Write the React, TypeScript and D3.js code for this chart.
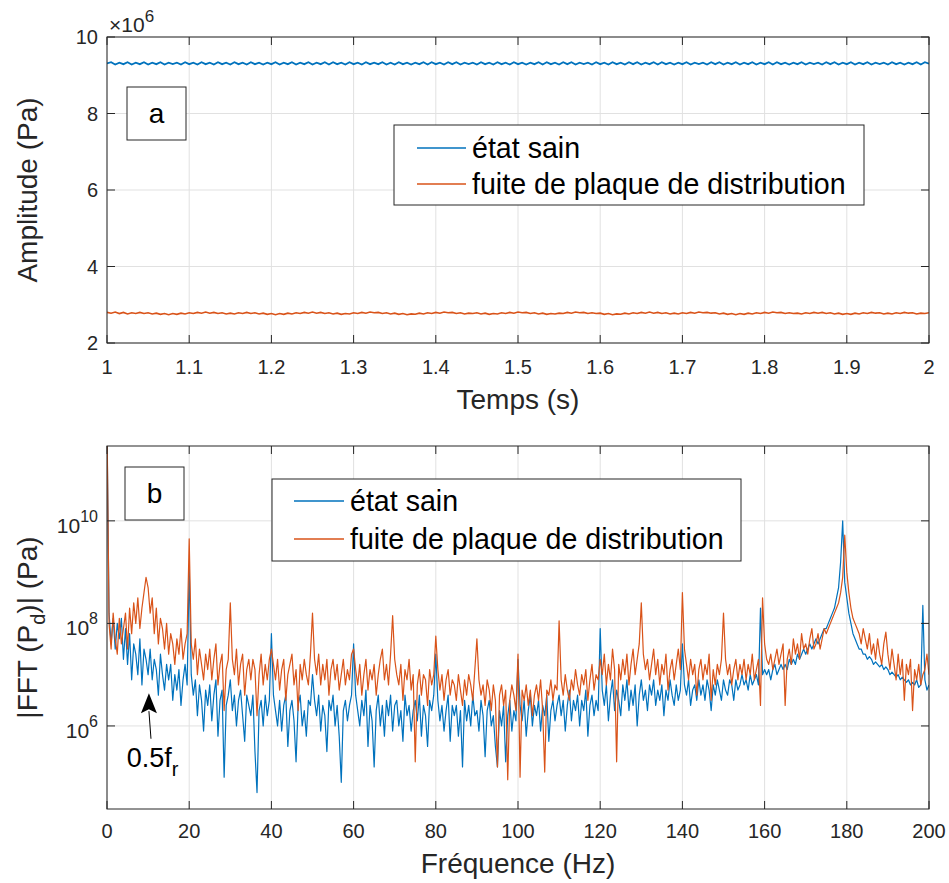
import React from 'react';
import * as d3 from 'd3';

// ---------- DATA ----------
const TIME_RANGE = [1, 2];
// Panel a: pressure amplitude (x 10^6 Pa), 201 samples between 1 s and 2 s
const BLUE_TIME = [
  9.31,9.34,9.28,9.33,9.29,9.34,9.28,9.33,9.29,9.34,
  9.28,9.33,9.29,9.34,9.28,9.33,9.29,9.33,9.28,9.34,
  9.29,9.33,9.28,9.34,9.29,9.33,9.28,9.34,9.29,9.33,
  9.28,9.34,9.29,9.33,9.28,9.34,9.29,9.33,9.28,9.33,
  9.29,9.34,9.28,9.33,9.29,9.34,9.28,9.33,9.29,9.34,
  9.28,9.33,9.29,9.34,9.28,9.34,9.29,9.33,9.28,9.34,
  9.29,9.33,9.28,9.34,9.29,9.33,9.29,9.34,9.28,9.33,
  9.28,9.34,9.29,9.33,9.28,9.33,9.29,9.34,9.28,9.34,
  9.29,9.33,9.28,9.34,9.29,9.34,9.28,9.33,9.29,9.33,
  9.28,9.34,9.29,9.33,9.28,9.34,9.29,9.33,9.28,9.34,
  9.29,9.33,9.28,9.33,9.29,9.34,9.28,9.34,9.29,9.33,
  9.28,9.34,9.29,9.34,9.28,9.33,9.29,9.33,9.28,9.34,
  9.29,9.33,9.28,9.34,9.29,9.33,9.28,9.34,9.29,9.34,
  9.28,9.33,9.29,9.34,9.28,9.34,9.29,9.33,9.28,9.33,
  9.29,9.34,9.28,9.33,9.29,9.33,9.28,9.34,9.29,9.34,
  9.28,9.33,9.29,9.34,9.28,9.33,9.29,9.34,9.28,9.33,
  9.29,9.34,9.28,9.34,9.29,9.33,9.28,9.33,9.29,9.34,
  9.28,9.33,9.29,9.33,9.28,9.34,9.29,9.34,9.28,9.33,
  9.29,9.34,9.28,9.33,9.29,9.34,9.28,9.33,9.29,9.33,
  9.28,9.34,9.29,9.33,9.28,9.33,9.29,9.34,9.28,9.34,
  9.30,
];
const ORANGE_TIME = [
  2.80,2.78,2.81,2.77,2.80,2.76,2.79,2.77,2.80,2.77,
  2.79,2.76,2.78,2.75,2.77,2.74,2.77,2.75,2.78,2.76,
  2.79,2.77,2.80,2.78,2.81,2.78,2.80,2.77,2.79,2.76,
  2.78,2.76,2.79,2.77,2.80,2.77,2.79,2.76,2.78,2.75,
  2.77,2.74,2.77,2.75,2.78,2.76,2.79,2.77,2.80,2.78,
  2.81,2.78,2.80,2.77,2.79,2.76,2.78,2.75,2.77,2.76,
  2.79,2.77,2.80,2.78,2.81,2.79,2.80,2.77,2.79,2.76,
  2.78,2.75,2.77,2.74,2.76,2.75,2.78,2.76,2.79,2.77,
  2.80,2.78,2.81,2.79,2.80,2.77,2.79,2.76,2.78,2.77,
  2.79,2.76,2.78,2.75,2.77,2.76,2.79,2.77,2.80,2.78,
  2.81,2.79,2.80,2.77,2.79,2.76,2.78,2.75,2.77,2.76,
  2.78,2.77,2.80,2.78,2.81,2.79,2.80,2.77,2.79,2.77,
  2.78,2.75,2.77,2.74,2.76,2.75,2.78,2.76,2.79,2.77,
  2.80,2.78,2.81,2.78,2.80,2.77,2.79,2.76,2.78,2.76,
  2.79,2.77,2.80,2.78,2.81,2.79,2.80,2.78,2.79,2.76,
  2.78,2.75,2.77,2.74,2.77,2.75,2.78,2.76,2.79,2.77,
  2.80,2.78,2.81,2.79,2.80,2.77,2.79,2.77,2.78,2.76,
  2.79,2.77,2.80,2.78,2.80,2.77,2.79,2.76,2.78,2.75,
  2.77,2.75,2.78,2.76,2.79,2.77,2.80,2.78,2.79,2.76,
  2.78,2.76,2.79,2.77,2.80,2.78,2.79,2.76,2.78,2.77,
  2.79,
];

// Panel b: log10 of |FFT(Pd)| (Pa), one value every 0.5 Hz from 0 to 200 Hz
const FREQ_STEP = 0.5;
const BLUE_FFT_LOG = [
  11.8,8.2,7.6,8.1,7.5,8.0,7.7,8.1,7.3,7.9,
  7.2,7.8,6.9,7.6,7.4,7.0,7.7,6.8,7.5,7.3,
  7.0,7.5,6.9,7.3,7.1,6.6,7.4,7.0,6.7,7.2,
  6.9,7.2,6.5,7.0,6.7,7.1,6.4,6.9,7.2,6.8,
  9.1,7.0,6.6,6.9,6.2,6.8,6.5,5.9,6.7,6.4,
  6.8,6.1,6.6,6.9,5.8,6.5,6.7,5.0,6.4,6.6,
  6.9,6.3,6.6,6.0,6.5,6.7,6.2,5.7,6.6,6.4,
  6.2,6.6,5.5,4.7,6.3,6.5,6.0,6.6,6.2,6.5,
  7.8,6.6,6.3,6.0,6.5,5.9,6.4,6.6,5.6,6.3,
  6.5,6.1,5.3,6.4,6.6,6.0,6.3,5.8,6.5,6.4,
  7.0,6.5,6.2,6.6,5.9,6.4,6.2,5.5,6.5,6.3,
  6.6,6.0,6.4,5.8,4.9,6.3,6.5,6.1,6.4,6.6,
  7.6,6.6,6.3,6.0,6.5,6.2,6.7,5.6,6.4,6.1,
  5.2,6.3,6.6,6.0,6.4,5.8,6.5,6.2,6.6,5.9,
  6.4,6.5,6.0,6.3,5.7,6.6,6.2,6.4,5.9,6.3,
  6.5,6.1,6.6,5.8,6.4,6.2,5.6,6.5,6.3,6.6,
  7.4,6.5,6.1,6.4,5.9,6.3,6.6,5.7,6.4,6.2,
  6.4,5.8,6.3,5.2,6.5,6.1,6.4,6.0,6.6,6.2,
  6.3,5.9,6.5,6.2,5.4,6.3,6.5,6.0,6.2,5.6,
  5.2,6.3,6.0,6.4,5.3,6.2,6.5,5.9,6.3,6.1,
  7.3,6.4,6.1,6.5,5.8,6.3,6.6,6.0,6.4,6.2,
  6.5,5.9,6.4,6.2,6.6,5.7,6.3,6.5,6.1,6.4,
  6.6,6.2,6.5,5.9,6.4,6.7,6.1,6.5,6.3,6.6,
  6.0,6.5,6.3,6.7,5.8,6.4,6.6,6.2,6.5,6.3,
  7.9,6.7,6.4,6.8,6.1,6.6,6.9,6.3,6.7,6.5,
  6.2,6.8,6.5,6.9,6.3,6.7,6.4,6.8,6.0,6.6,
  6.9,6.5,6.7,6.3,6.8,6.6,6.9,6.4,6.7,6.5,
  6.8,6.2,6.7,6.5,6.9,6.6,6.4,6.8,6.5,6.7,
  7.6,6.8,6.6,6.9,6.4,6.7,6.8,6.5,6.9,6.6,
  6.8,6.5,6.9,6.7,6.3,6.8,6.6,6.9,6.7,6.5,
  6.9,6.7,6.6,6.9,6.8,6.5,6.9,6.7,6.8,7.0,
  6.8,6.9,6.7,7.0,6.8,6.9,7.0,6.8,8.3,7.0,
  7.1,7.0,7.1,6.9,7.1,7.2,7.0,7.1,7.2,7.1,
  7.2,7.1,7.3,7.2,7.3,7.2,7.4,7.3,7.4,7.5,
  7.4,7.5,7.6,7.5,7.6,7.7,7.6,7.7,7.8,7.9,
  7.9,8.0,8.1,8.2,8.3,8.5,8.7,9.2,10.0,8.8,
  8.5,8.2,8.0,7.8,7.7,7.6,7.5,7.5,7.4,7.4,
  7.3,7.35,7.3,7.2,7.25,7.2,7.15,7.2,7.1,7.15,
  7.1,7.0,7.05,7.0,6.95,7.0,6.9,6.95,6.9,6.85,
  6.9,6.8,6.85,6.8,6.9,6.75,6.8,8.35,6.9,6.7,
  6.8,
];
const ORANGE_FFT_LOG = [
  12.0,8.0,7.5,8.2,7.7,7.4,8.1,7.6,7.9,8.2,
  7.5,8.3,7.8,8.4,8.0,8.5,7.9,8.3,8.6,8.9,
  8.7,8.2,8.5,7.8,8.3,7.6,8.1,7.9,7.5,8.0,
  7.4,7.8,7.6,7.2,7.7,7.4,7.9,7.3,7.6,7.8,
  9.65,7.6,7.3,7.7,7.0,7.5,7.2,6.9,7.4,7.1,
  7.5,6.9,7.3,7.6,6.8,7.2,7.4,6.3,7.1,7.3,
  8.4,7.3,7.0,7.5,6.8,7.2,7.4,6.6,7.1,7.3,
  6.9,7.3,7.1,6.2,7.0,7.4,6.8,7.2,6.9,7.3,
  7.5,7.2,6.9,7.3,6.7,7.1,7.3,6.5,7.0,7.2,
  7.4,6.8,7.1,6.3,7.2,6.9,7.3,7.0,6.8,7.4,
  8.2,7.3,7.0,7.4,6.8,7.2,6.9,7.3,6.6,7.1,
  7.3,6.9,7.2,6.7,7.0,7.3,6.8,7.1,6.9,7.4,
  7.5,7.1,6.8,7.2,6.6,7.0,7.3,6.7,7.1,6.9,
  7.2,6.6,7.0,7.3,7.5,6.9,7.2,6.8,7.4,8.15,
  7.3,7.0,6.8,7.2,6.5,7.1,6.9,7.3,6.7,7.0,
  5.3,6.8,7.1,6.6,7.0,6.9,6.4,7.1,6.8,7.0,
  7.75,7.1,6.7,7.0,6.5,6.9,7.1,6.6,6.9,6.8,
  6.5,7.0,6.7,6.4,6.9,6.6,7.0,6.8,6.5,7.1,
  7.7,6.9,6.6,6.8,6.4,6.9,6.7,6.3,6.8,6.5,
  5.2,6.6,6.8,6.4,6.7,4.95,6.5,6.8,6.6,6.3,
  7.4,5.0,6.7,6.5,6.8,6.4,6.7,6.2,6.6,6.8,
  6.5,6.9,6.3,5.1,6.7,6.6,6.9,6.5,6.8,6.7,
  8.05,6.9,6.6,7.0,6.7,6.5,6.9,6.7,7.1,6.8,
  6.6,7.0,6.8,7.1,6.5,6.9,7.2,6.7,7.0,6.9,
  7.3,7.0,7.4,6.8,7.2,6.9,7.5,7.1,5.3,7.2,
  6.9,7.3,7.0,7.4,6.8,7.2,7.5,7.0,7.3,7.6,
  8.4,7.4,7.1,7.3,6.9,7.2,7.5,7.0,7.3,6.8,
  7.2,7.0,7.4,6.7,7.1,7.3,6.9,7.2,7.5,7.1,
  8.6,7.5,7.2,6.9,7.3,7.0,7.2,6.6,7.1,7.3,
  6.9,7.2,7.0,7.4,6.5,7.1,6.8,7.2,7.0,7.3,
  8.2,7.3,7.0,7.2,6.8,7.1,7.3,6.9,7.2,7.0,
  7.3,6.9,7.2,7.0,7.4,6.9,7.1,7.3,6.4,8.5,
  7.6,7.3,7.2,7.4,7.1,7.3,7.5,7.2,7.4,7.6,
  6.4,7.3,7.5,7.2,7.7,7.4,7.6,7.3,7.8,7.5,
  7.6,7.4,7.7,7.9,7.5,7.6,7.8,7.5,7.7,7.9,
  7.8,7.9,8.0,8.1,8.2,8.3,8.4,8.6,8.9,9.72,
  9.0,8.6,8.3,8.1,8.0,7.9,7.8,7.6,7.9,7.7,
  7.5,7.8,7.4,7.6,7.3,7.7,7.4,7.2,7.6,7.83,
  7.4,7.1,7.5,7.2,6.9,7.4,7.0,7.3,6.5,7.2,
  7.0,7.3,6.3,7.1,6.9,7.2,6.8,7.0,7.1,7.4,
  7.0,
];

const TIME_TICKS = [1, 1.1, 1.2, 1.3, 1.4, 1.5, 1.6, 1.7, 1.8, 1.9, 2];
const AMP_TICKS = [2, 4, 6, 8, 10];
const FREQ_TICKS = [0, 20, 40, 60, 80, 100, 120, 140, 160, 180, 200];
const FFT_TICK_EXPONENTS = [6, 8, 10];
const FFT_DOMAIN_EXP = [4.38, 11.46];
const SERIES_NAMES = ['état sain', 'fuite de plaque de distribution'];
const SERIES_COLORS = ['#0072BD', '#D95319'];
const ANNOT = { tipFreq: 10.2, tipExp: 6.64, tailFreq: 10.7, tailExp: 5.75, textFreq: 4.8, textExp: 5.2 };

// ---------- LAYOUT ----------
const FONT = '"Liberation Sans", Arial, Helvetica, sans-serif';
const AX = '#262626';
const GRID = '#e1e1e1';
const TL = 8; // tick length

const topBox = { l: 107, r: 929, t: 37, b: 343 };
const botBox = { l: 107, r: 929, t: 446, b: 809 };

const xT = d3.scaleLinear().domain(TIME_RANGE).range([topBox.l, topBox.r]);
const yT = d3.scaleLinear().domain([2, 10]).range([topBox.b, topBox.t]);
const xB = d3.scaleLinear().domain([0, 200]).range([botBox.l, botBox.r]);
const yB = d3.scaleLog().domain([10 ** FFT_DOMAIN_EXP[0], 10 ** FFT_DOMAIN_EXP[1]]).range([botBox.b, botBox.t]);

function timeLine(arr: number[]) {
  const n = arr.length - 1;
  const g = d3.line<number>()
    .x((_, i) => xT(TIME_RANGE[0] + (i * (TIME_RANGE[1] - TIME_RANGE[0])) / n))
    .y((d) => yT(d));
  return g(arr) || '';
}
function fftLine(arr: number[]) {
  const g = d3.line<number>()
    .x((_, i) => xB(i * FREQ_STEP))
    .y((d) => yB(Math.pow(10, d)));
  return g(arr) || '';
}

function Frame({ box }: { box: { l: number; r: number; t: number; b: number } }) {
  return <rect x={box.l} y={box.t} width={box.r - box.l} height={box.b - box.t} fill="none" stroke={AX} strokeWidth={1} />;
}

function Legend({ x, y, w, h, lineX0, lineX1, textX, rows }: any) {
  return (
    <g>
      <rect x={x} y={y} width={w} height={h} fill="#fff" stroke={AX} strokeWidth={1} />
      {SERIES_NAMES.map((name, i) => (
        <g key={name}>
          <line x1={lineX0} x2={lineX1} y1={rows[i]} y2={rows[i]} stroke={SERIES_COLORS[i]} strokeWidth={1.3} />
          <text x={textX} y={rows[i]} dy="0.35em" fontSize={28.6} fill="#000" fontFamily={FONT}>{name}</text>
        </g>
      ))}
    </g>
  );
}

export default function App() {
  return (
    <svg width={949} height={883} style={{ position: 'absolute', left: 0, top: 0, background: '#fff' }} fontFamily={FONT}>
      <defs>
        <clipPath id="clipTop"><rect x={topBox.l} y={topBox.t} width={topBox.r - topBox.l} height={topBox.b - topBox.t} /></clipPath>
        <clipPath id="clipBot"><rect x={botBox.l} y={botBox.t} width={botBox.r - botBox.l} height={botBox.b - botBox.t} /></clipPath>
      </defs>
      <rect x={0} y={0} width={949} height={883} fill="#fff" />

      {/* ---------- Panel a ---------- */}
      <g>
        {TIME_TICKS.map((t) => (
          <line key={'gx' + t} x1={xT(t)} x2={xT(t)} y1={topBox.t} y2={topBox.b} stroke={GRID} strokeWidth={1} />
        ))}
        {AMP_TICKS.map((t) => (
          <line key={'gy' + t} x1={topBox.l} x2={topBox.r} y1={yT(t)} y2={yT(t)} stroke={GRID} strokeWidth={1} />
        ))}
        <g clipPath="url(#clipTop)">
          <path d={timeLine(BLUE_TIME)} fill="none" stroke={SERIES_COLORS[0]} strokeWidth={1.8} />
          <path d={timeLine(ORANGE_TIME)} fill="none" stroke={SERIES_COLORS[1]} strokeWidth={1.6} />
        </g>
        <Frame box={topBox} />
        {TIME_TICKS.map((t) => (
          <g key={'tx' + t}>
            <line x1={xT(t)} x2={xT(t)} y1={topBox.b} y2={topBox.b - TL} stroke={AX} />
            <line x1={xT(t)} x2={xT(t)} y1={topBox.t} y2={topBox.t + TL} stroke={AX} />
            <text x={xT(t)} y={374} textAnchor="middle" fontSize={20} fill={AX}>{t}</text>
          </g>
        ))}
        {AMP_TICKS.map((t) => (
          <g key={'ty' + t}>
            <line x1={topBox.l} x2={topBox.l + TL} y1={yT(t)} y2={yT(t)} stroke={AX} />
            <line x1={topBox.r} x2={topBox.r - TL} y1={yT(t)} y2={yT(t)} stroke={AX} />
            <text x={98} y={yT(t)} dy="0.35em" textAnchor="end" fontSize={20} fill={AX}>{t}</text>
          </g>
        ))}
        <text x={109} y={32} fontSize={21} fill={AX}>
          ×10<tspan dy={-10} fontSize={17}>6</tspan>
        </text>
        <text x={(topBox.l + topBox.r) / 2} y={409} textAnchor="middle" fontSize={28} fill={AX}>Temps (s)</text>
        <text transform={`translate(37,${(topBox.t + topBox.b) / 2}) rotate(-90)`} textAnchor="middle" fontSize={28} fill={AX}>Amplitude (Pa)</text>

        <rect x={127} y={87} width={59} height={53} fill="#fff" stroke={AX} strokeWidth={1} />
        <text x={156.5} y={113.5} dy="0.35em" textAnchor="middle" fontSize={28} fill="#000">a</text>

        <Legend x={394} y={125} w={470} h={80} lineX0={417} lineX1={466} textX={472} rows={[148, 184]} />
      </g>

      {/* ---------- Panel b ---------- */}
      <g>
        {FREQ_TICKS.map((t) => (
          <line key={'bgx' + t} x1={xB(t)} x2={xB(t)} y1={botBox.t} y2={botBox.b} stroke={GRID} strokeWidth={1} />
        ))}
        {FFT_TICK_EXPONENTS.map((e) => (
          <line key={'bgy' + e} x1={botBox.l} x2={botBox.r} y1={yB(10 ** e)} y2={yB(10 ** e)} stroke={GRID} strokeWidth={1} />
        ))}
        <g clipPath="url(#clipBot)">
          <path d={fftLine(BLUE_FFT_LOG)} fill="none" stroke={SERIES_COLORS[0]} strokeWidth={1.2} strokeLinejoin="round" />
          <path d={fftLine(ORANGE_FFT_LOG)} fill="none" stroke={SERIES_COLORS[1]} strokeWidth={1.2} strokeLinejoin="round" />
        </g>
        <Frame box={botBox} />
        {FREQ_TICKS.map((t) => (
          <g key={'btx' + t}>
            <line x1={xB(t)} x2={xB(t)} y1={botBox.b} y2={botBox.b - TL} stroke={AX} />
            <line x1={xB(t)} x2={xB(t)} y1={botBox.t} y2={botBox.t + TL} stroke={AX} />
            <text x={xB(t)} y={838} textAnchor="middle" fontSize={20} fill={AX}>{t}</text>
          </g>
        ))}
        {FFT_TICK_EXPONENTS.map((e) => (
          <g key={'bty' + e}>
            <line x1={botBox.l} x2={botBox.l + TL} y1={yB(10 ** e)} y2={yB(10 ** e)} stroke={AX} />
            <line x1={botBox.r} x2={botBox.r - TL} y1={yB(10 ** e)} y2={yB(10 ** e)} stroke={AX} />
            <text x={98} y={yB(10 ** e) + 12} textAnchor="end" fontSize={21} fill={AX}>
              10<tspan dy={-11} fontSize={16}>{e}</tspan>
            </text>
          </g>
        ))}
        <text x={(botBox.l + botBox.r) / 2} y={873} textAnchor="middle" fontSize={28} fill={AX}>Fréquence (Hz)</text>
        <text transform={`translate(37,${(botBox.t + botBox.b) / 2}) rotate(-90)`} textAnchor="middle" fontSize={28} fill={AX}>
          |FFT (P<tspan dy={8} fontSize={20}>d</tspan><tspan dy={-8}>)| (Pa)</tspan>
        </text>

        <rect x={125} y={467} width={59} height={53} fill="#fff" stroke={AX} strokeWidth={1} />
        <text x={154.5} y={493.5} dy="0.35em" textAnchor="middle" fontSize={28} fill="#000">b</text>

        <Legend x={272} y={479} w={469} h={82} lineX0={294} lineX1={344} textX={350} rows={[501, 539]} />

        {/* annotation 0.5 f_r */}
        <line x1={xB(ANNOT.tailFreq)} y1={yB(10 ** ANNOT.tailExp)} x2={xB(ANNOT.tipFreq)} y2={yB(10 ** ANNOT.tipExp) + 18} stroke="#000" strokeWidth={1} />
        <path
          d={`M${xB(ANNOT.tipFreq)},${yB(10 ** ANNOT.tipExp)} L${xB(ANNOT.tipFreq) - 8},${yB(10 ** ANNOT.tipExp) + 20} L${xB(ANNOT.tipFreq)},${yB(10 ** ANNOT.tipExp) + 16} L${xB(ANNOT.tipFreq) + 8},${yB(10 ** ANNOT.tipExp) + 20} Z`}
          fill="#000"
        />
        <text x={xB(ANNOT.textFreq)} y={yB(10 ** ANNOT.textExp)} fontSize={27} fill="#000">
          0.5f<tspan dy={9} fontSize={20}>r</tspan>
        </text>
      </g>
    </svg>
  );
}
